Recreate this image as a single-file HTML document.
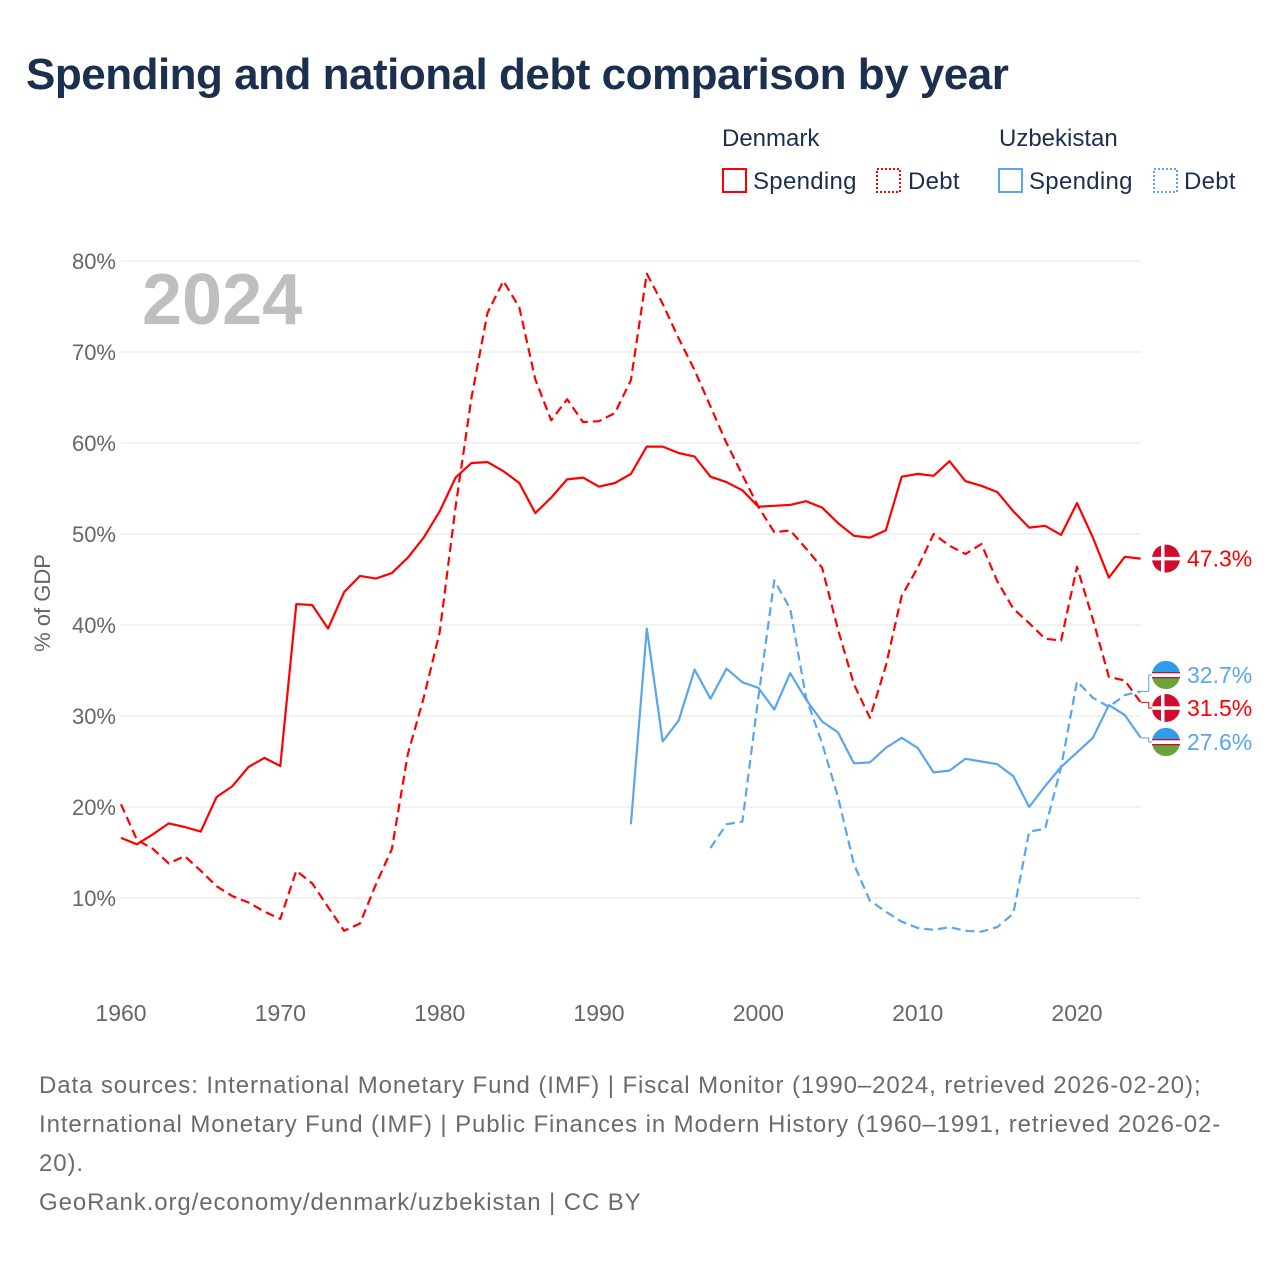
<!DOCTYPE html>
<html><head><meta charset="utf-8"><style>
body{margin:0;background:#fff;font-family:"Liberation Sans",sans-serif;}
#wrap{position:relative;width:1280px;height:1280px;overflow:hidden;background:#fff}
.t{position:absolute;white-space:nowrap}
</style></head><body>
<div id="wrap">
<div class="t" style="left:26px;top:50px;font-size:44px;font-weight:bold;color:#1b2f4e;letter-spacing:-0.5px">Spending and national debt comparison by year</div>
<div class="t" style="left:722px;top:125px;font-size:24px;color:#1b2f4e">Denmark</div>
<div class="t" style="left:999px;top:125px;font-size:24px;color:#1b2f4e">Uzbekistan</div>
<svg width="1280" height="1280" style="position:absolute;left:0;top:0" id="svg">
<g><rect x="723" y="169" width="23" height="23" fill="none" stroke="#f00" stroke-width="2"/><text x="753" y="189" font-size="24" fill="#1b2f4e" letter-spacing="0.3">Spending</text></g>
<g><rect x="877" y="169" width="23" height="23" fill="none" stroke="#f00" stroke-width="2" stroke-dasharray="2,2"/><text x="908" y="189" font-size="24" fill="#1b2f4e" letter-spacing="0.3">Debt</text></g>
<g><rect x="999" y="169" width="23" height="23" fill="none" stroke="#5aa5ec" stroke-width="2"/><text x="1029" y="189" font-size="24" fill="#1b2f4e" letter-spacing="0.3">Spending</text></g>
<g><rect x="1154" y="169" width="23" height="23" fill="none" stroke="#5aa5ec" stroke-width="2" stroke-dasharray="2,2"/><text x="1184" y="189" font-size="24" fill="#1b2f4e" letter-spacing="0.3">Debt</text></g>
<text x="142" y="324" font-size="72" font-weight="bold" fill="#bfbfbf">2024</text>
<text transform="translate(50,603) rotate(-90)" text-anchor="middle" font-size="22" fill="#666">% of GDP</text>
<g id="grid"></g><g id="lines"></g><g id="labels"></g>
</svg>
<div class="t" style="left:39px;top:1066px;font-size:24px;line-height:39px;color:#6b6b6b;white-space:normal;width:1190px;letter-spacing:0.9px">Data sources: International Monetary Fund (IMF) | Fiscal Monitor (1990–2024, retrieved 2026-02-20); International Monetary Fund (IMF) | Public Finances in Modern History (1960–1991, retrieved 2026-02-20).<br>GeoRank.org/economy/denmark/uzbekistan | CC BY</div>
</div>
<script>
const yTicks=[10,20,30,40,50,60,70,80];
const xTicks=[1960,1970,1980,1990,2000,2010,2020];
const dkStart=1960;
const dkSpending=[16.6,15.9,17.0,18.2,17.8,17.3,21.1,22.3,24.4,25.4,24.5,42.3,42.2,39.6,43.6,45.4,45.1,45.7,47.4,49.6,52.5,56.2,57.8,57.9,56.9,55.6,52.3,54.0,56.0,56.2,55.2,55.6,56.6,59.6,59.6,58.9,58.5,56.3,55.7,54.8,53.0,53.1,53.2,53.6,52.9,51.2,49.8,49.6,50.4,56.3,56.6,56.4,58.0,55.8,55.3,54.6,52.5,50.7,50.9,49.9,53.4,49.6,45.2,47.5,47.3];
const dkDebt=[20.3,16.4,15.4,13.8,14.6,13.0,11.3,10.2,9.5,8.5,7.7,13.0,11.6,9.0,6.4,7.2,11.5,15.4,25.8,32.0,39.2,53.0,65.0,74.3,77.8,74.9,67.0,62.5,64.8,62.3,62.4,63.3,66.9,78.6,75.3,71.5,68.0,64.0,60.0,56.5,53.0,50.2,50.4,48.4,46.3,39.5,33.5,29.8,35.5,43.2,46.3,50.0,48.7,47.8,48.9,44.8,41.8,40.2,38.5,38.3,46.4,40.6,34.3,33.9,31.5];
const uzSpendStart=1992;
const uzSpending=[18.1,39.6,27.2,29.5,35.1,31.9,35.2,33.7,33.1,30.7,34.7,31.8,29.4,28.2,24.8,24.9,26.5,27.6,26.5,23.8,24.0,25.3,25.0,24.7,23.4,20.0,22.3,24.4,26.0,27.6,31.2,30.1,27.6];
const uzDebtStart=1997;
const uzDebt=[15.5,18.1,18.4,32.0,44.9,41.8,32.0,27.0,21.1,13.7,9.7,8.5,7.4,6.7,6.5,6.8,6.4,6.3,6.8,8.3,17.3,17.6,24.4,33.8,32.0,31.0,32.3,32.7];
const NS='http://www.w3.org/2000/svg';
const X=yr=>121+(yr-1960)*(956/60);
const Y=v=>989-v*9.1;
function mk(tag,attrs,parent){const e=document.createElementNS(NS,tag);for(const k in attrs)e.setAttribute(k,attrs[k]);parent.appendChild(e);return e;}
const grid=document.getElementById('grid'),lines=document.getElementById('lines'),labels=document.getElementById('labels');
yTicks.forEach(v=>{
 const l=mk('line',{x1:121,x2:1141,y1:Y(v),y2:Y(v),stroke:'#e6e6e6','stroke-width':1},grid);
 
 
 const t=mk('text',{x:116,y:Y(v)+8,'text-anchor':'end','font-size':22,fill:'#666'},grid);
 t.textContent=v+'%';
 
 
});
xTicks.forEach(yr=>{
 const t=mk('text',{x:X(yr),y:1021,'text-anchor':'middle','font-size':23,fill:'#666'},grid);
 t.textContent=yr;
 
 
});
function series(arr,start,color,dash,name){
 const d=arr.map((v,i)=>(i?'L':'M')+X(start+i).toFixed(1)+','+Y(v).toFixed(1)).join('');
 const p=mk('path',{d:d,fill:'none',stroke:color,'stroke-width':2.2,'stroke-linejoin':'round'},lines);
 if(dash)p.setAttribute('stroke-dasharray','9,5');
 
 
}
series(dkSpending,dkStart,'#ff0000',false,'denmark-spending-line');
series(dkDebt,dkStart,'#ff0000',true,'denmark-debt-line');
series(uzSpending,uzSpendStart,'#5aa5ec',false,'uzbekistan-spending-line');
series(uzDebt,uzDebtStart,'#5aa5ec',true,'uzbekistan-debt-line');
function endLabel(v,ly,color,flag,name){
 const ex=X(2024),ey=Y(v);
 if(Math.abs(ly-ey)>1){const c=mk('path',{d:`M${ex},${ey}H${ex+8}V${ly}H${ex+14}`,fill:'none',stroke:color,'stroke-width':1},labels);}
 const g=mk('g',{},labels);
 
 
 const cx=1166;
 if(flag==='dk'){
  mk('circle',{cx:cx,cy:ly,r:14,fill:'#d00c2e'},g);
  mk('rect',{x:cx-5,y:ly-14,width:3.5,height:28,fill:'#fff'},g);
  mk('rect',{x:cx-14,y:ly-1.7,width:28,height:3.5,fill:'#fff'},g);
 } else {
  mk('circle',{cx:cx,cy:ly,r:14,fill:'#fff'},g);
  mk('path',{d:`M${cx-13.7},${ly-3}A14,14 0 0 1 ${cx+13.7},${ly-3}Z`,fill:'#2e9ce8'},g);
  mk('path',{d:`M${cx-13.7},${ly+3}A14,14 0 0 0 ${cx+13.7},${ly+3}Z`,fill:'#6aa33c'},g);
  mk('rect',{x:cx-14,y:ly-3,width:28,height:1.3,fill:'#d00c2e'},g);
  mk('rect',{x:cx-14,y:ly+2,width:28,height:1.3,fill:'#d00c2e'},g);
 }
 const t=mk('text',{x:1187,y:ly+8,'font-size':23,fill:color},g);
 t.textContent=v.toFixed(1)+'%';
}
endLabel(dkSpending[dkSpending.length-1],Y(dkSpending[dkSpending.length-1]),'#ff0000','dk','label-denmark-spending');
endLabel(uzDebt[uzDebt.length-1],675,'#5aa5ec','uz','label-uzbekistan-debt');
endLabel(dkDebt[dkDebt.length-1],708,'#ff0000','dk','label-denmark-debt');
endLabel(uzSpending[uzSpending.length-1],742,'#5aa5ec','uz','label-uzbekistan-spending');
</script>
</body></html>
